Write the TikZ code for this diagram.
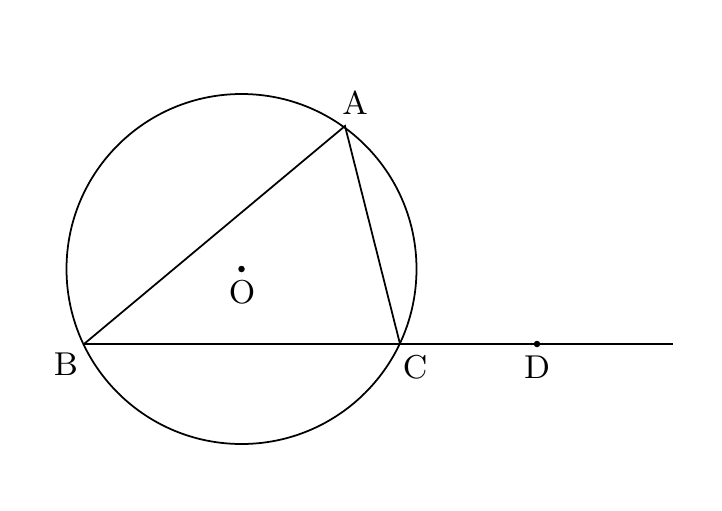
\documentclass[tikz,border=0pt]{standalone}
\usepackage{amsmath}
\usepackage{amssymb}
\usetikzlibrary{positioning}

\begin{document}
\begin{tikzpicture}[line width=0.5pt,
    pt/.style={circle,fill=black,inner sep=0pt,minimum size=0.65mm},
    lbl/.style={font=\fontsize{9.4}{11}\selectfont,inner sep=0pt}]
        \useasboundingbox (0,0) rectangle (7.22,5.10);
        \coordinate (O) at (2.415,2.41);
        \coordinate (A) at (3.45,3.84);
        \coordinate (B) at (0.84,1.66);
        \coordinate (C) at (4.00,1.66);
        \coordinate (D) at (5.37,1.66);
        \coordinate (E) at (6.73,1.66);

        \draw (O) circle (1.75);
        \draw (B) -- (A) -- (C) -- (B);
        \draw (C) -- (E);

        \node[pt] (dotO) at (O) {};
        \node[pt] (dotD) at (D) {};

        \node[lbl] (labA) at (3.55,4.07) {A};
        \node[lbl] (labB) at (0.66,1.46) {B};
        \node[lbl] (labC) at (4.15,1.43) {C};
        \node[lbl] (labD) at (5.37,1.43) {D};
        \node[lbl] (labO) at (2.42,2.18) {O};
    \end{tikzpicture}
\end{document}
